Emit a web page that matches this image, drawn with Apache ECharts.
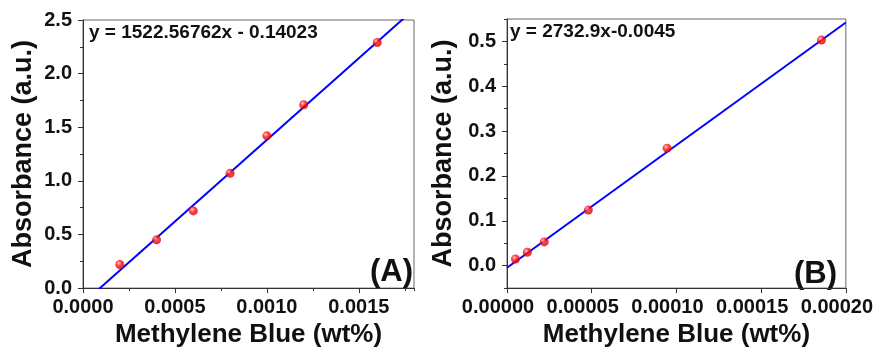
<!DOCTYPE html>
<html>
<head>
<meta charset="utf-8">
<script src="https://cdn.jsdelivr.net/npm/echarts@6/dist/echarts.min.js"></script>
<style>
  html, body { margin: 0; padding: 0; background: #fff; }
  #chart { width: 876px; height: 353px; }
</style>
</head>
<body>
<div id="chart"></div>
<script>
// panel (A)
const concA = [0.0002, 0.0004, 0.0006, 0.0008, 0.0010, 0.0012, 0.0016];
const absA = [0.22, 0.45, 0.72, 1.07, 1.42, 1.71, 2.29];
const slopeA = 1522.56762;
const interceptA = -0.14023;
const xRangeA = [0, 0.0018];
const yRangeA = [0, 2.5];
const xMajorsA = [0, 0.0005, 0.0010, 0.0015];

// panel (B)
const concB = [0.000005, 0.000012, 0.000022, 0.000048, 0.0000945, 0.0001856];
const absB = [0.015, 0.030, 0.053, 0.124, 0.262, 0.503];
const slopeB = 2732.9;
const interceptB = -0.0045;
const xRangeB = [0, 0.0002];
const yRangeB = [-0.05, 0.55];
const yMajorsB = [0, 0.1, 0.2, 0.3, 0.4, 0.5];

const FONT = '"Liberation Sans", Arial, sans-serif';
const INK = '#111';

const fitLine = (slope, intercept, range) =>
  range.map(x => [x, slope * x + intercept]);

const ball = {
  type: 'radial', x: 0.38, y: 0.35, r: 0.65,
  colorStops: [
    { offset: 0, color: '#ffc0c0' },
    { offset: 0.45, color: '#ff1010' },
    { offset: 1, color: '#dd0000' },
  ],
};

const tickLabel = { color: INK, fontFamily: FONT, fontWeight: 'bold', fontSize: 20 };
const axisName = { color: INK, fontFamily: FONT, fontWeight: 'bold' };
const axisLine = { show: true, onZero: false, lineStyle: { color: '#333', width: 1 } };

const chart = echarts.init(document.getElementById('chart'));
chart.setOption({
  animation: false,
  grid: [
    { left: 83, top: 20, width: 331, height: 273, show: true, borderColor: '#666', borderWidth: 1 },
    { left: 507, top: 19, width: 340, height: 274, show: true, borderColor: '#666', borderWidth: 1 },
  ],
  xAxis: [
    {
      gridIndex: 0, type: 'value', position: 'bottom',
      min: xRangeA[0], max: xRangeA[1],
      axisLine,
      axisTick: { customValues: xMajorsA, length: 5, lineStyle: { color: '#333' } },
      axisLabel: { ...tickLabel, customValues: xMajorsA, margin: 9, formatter: v => v.toFixed(4) },
      splitLine: { show: false },
      name: 'Methylene Blue (wt%)', nameLocation: 'middle', nameGap: 32,
      nameTextStyle: { ...axisName, fontSize: 26 },
    },
    {
      gridIndex: 0, type: 'value', position: 'bottom',
      min: xRangeA[0], max: xRangeA[1], interval: 0.00025,
      axisLine: { show: false, onZero: false },
      axisTick: { length: 3, lineStyle: { color: '#333' } },
      axisLabel: { show: false },
      splitLine: { show: false },
    },
    {
      gridIndex: 1, type: 'value', position: 'bottom',
      min: xRangeB[0], max: xRangeB[1], interval: 0.00005,
      axisLine,
      axisTick: { length: 5, lineStyle: { color: '#333' } },
      axisLabel: { ...tickLabel, margin: 9, padding: [0, 18, 0, 0], formatter: v => v.toFixed(5) },
      splitLine: { show: false },
      name: 'Methylene Blue (wt%)', nameLocation: 'middle', nameGap: 32,
      nameTextStyle: { ...axisName, fontSize: 26 },
    },
  ],
  yAxis: [
    {
      gridIndex: 0, type: 'value', position: 'left',
      min: yRangeA[0], max: yRangeA[1], interval: 0.5,
      axisLine,
      axisTick: { length: 5, lineStyle: { color: '#333' } },
      minorTick: { show: true, splitNumber: 2, length: 3, lineStyle: { color: '#333' } },
      axisLabel: { ...tickLabel, margin: 11, formatter: v => v.toFixed(1) },
      splitLine: { show: false },
      name: 'Absorbance (a.u.)', nameLocation: 'middle', nameGap: 46,
      nameTextStyle: { ...axisName, fontSize: 27 },
    },
    {
      gridIndex: 1, type: 'value', position: 'left',
      min: yRangeB[0], max: yRangeB[1],
      axisLine,
      axisTick: { customValues: yMajorsB, length: 5, lineStyle: { color: '#333' } },
      axisLabel: { ...tickLabel, customValues: yMajorsB, margin: 11, formatter: v => v.toFixed(1) },
      splitLine: { show: false },
      name: 'Absorbance (a.u.)', nameLocation: 'middle', nameGap: 50,
      nameTextStyle: { ...axisName, fontSize: 27 },
    },
    {
      gridIndex: 1, type: 'value', position: 'left',
      min: yRangeB[0], max: yRangeB[1], interval: 0.05,
      axisLine: { show: false, onZero: false },
      axisTick: { length: 3, lineStyle: { color: '#333' } },
      axisLabel: { show: false },
      splitLine: { show: false },
    },
  ],
  graphic: [
    {
      type: 'text', left: 89, top: 23,
      style: { text: 'y = 1522.56762x - 0.14023', fill: INK, font: 'bold 19px ' + FONT },
    },
    {
      type: 'text', left: 510, top: 22,
      style: { text: 'y = 2732.9x-0.0045', fill: INK, font: 'bold 19px ' + FONT },
    },
    {
      type: 'text', right: 876 - 413, top: 257,
      style: { text: '(A)', fill: INK, font: 'bold 31px ' + FONT },
    },
    {
      type: 'text', right: 876 - 837, top: 259,
      style: { text: '(B)', fill: INK, font: 'bold 31px ' + FONT },
    },
  ],
  series: [
    {
      type: 'line', xAxisIndex: 0, yAxisIndex: 0,
      data: fitLine(slopeA, interceptA, xRangeA),
      showSymbol: false, clip: true,
      lineStyle: { color: '#0000ff', width: 2 },
    },
    {
      type: 'scatter', xAxisIndex: 0, yAxisIndex: 0,
      data: concA.map((x, i) => [x, absA[i]]),
      symbolSize: 9, itemStyle: { color: ball }, z: 3,
    },
    {
      type: 'line', xAxisIndex: 2, yAxisIndex: 1,
      data: fitLine(slopeB, interceptB, xRangeB),
      showSymbol: false, clip: true,
      lineStyle: { color: '#0000ff', width: 2 },
    },
    {
      type: 'scatter', xAxisIndex: 2, yAxisIndex: 1,
      data: concB.map((x, i) => [x, absB[i]]),
      symbolSize: 9, itemStyle: { color: ball }, z: 3,
    },
  ],
});
</script>
</body>
</html>
